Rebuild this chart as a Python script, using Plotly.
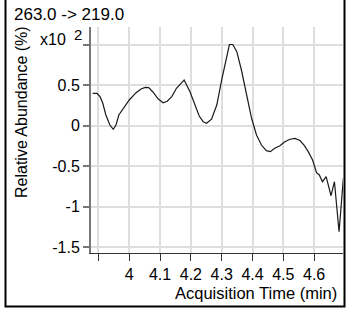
import plotly.graph_objects as go

# Data (values in units of x10^2 %)
time_min = [3.881, 3.895, 3.905, 3.914, 3.924, 3.937, 3.948, 3.957, 3.966, 3.979,
            4.000, 4.022, 4.038, 4.052, 4.063, 4.076, 4.094, 4.110, 4.123, 4.138,
            4.153, 4.168, 4.178, 4.197, 4.213, 4.227, 4.240, 4.251, 4.267, 4.284,
            4.300, 4.316, 4.325, 4.336, 4.349, 4.364, 4.381, 4.397, 4.413, 4.429,
            4.445, 4.458, 4.472, 4.489, 4.505, 4.522, 4.538, 4.554, 4.568, 4.581,
            4.595, 4.603, 4.608, 4.617, 4.627, 4.639, 4.655, 4.666, 4.681, 4.695]
abundance = [0.397, 0.397, 0.356, 0.274, 0.130, 0.006, -0.047, 0.006, 0.130, 0.200,
             0.315, 0.405, 0.451, 0.471, 0.467, 0.417, 0.327, 0.281, 0.299, 0.356,
             0.459, 0.521, 0.562, 0.417, 0.253, 0.117, 0.047, 0.027, 0.077, 0.253,
             0.562, 0.849, 1.000, 1.000, 0.911, 0.685, 0.377, 0.089, -0.117, -0.241,
             -0.311, -0.323, -0.281, -0.249, -0.200, -0.170, -0.160, -0.185, -0.245, -0.323,
             -0.426, -0.509, -0.583, -0.611, -0.694, -0.632, -0.867, -0.694, -1.311, -0.650]

x_tickvals = [3.9, 4.0, 4.1, 4.2, 4.3, 4.4, 4.5, 4.6]
x_ticktext = ["", "4", "4.1", "4.2", "4.3", "4.4", "4.5", "4.6"]
y_tickvals = [1.0, 0.5, 0, -0.5, -1, -1.5]
y_ticktext = ["", "0.5", "0", "-0.5", "-1", "-1.5"]
scale_base = "x10"
scale_exp = "2"

title_text = "263.0 -> 219.0"
x_title = "Acquisition Time (min)"
y_title = "Relative Abundance (%)"

W, H = 347, 312
L, R, T, B = 91, 4, 27, 59
pw, ph = W - L - R, H - T - B

def px(xp):
    return (xp - L) / pw

def py(yp):
    return (H - B - yp) / ph

FONT = "Liberation Sans, Arial, sans-serif"

fig = go.Figure()
fig.add_trace(go.Scatter(x=time_min, y=abundance, mode="lines",
                         line=dict(color="#1a1a1a", width=1.2),
                         hoverinfo="skip", showlegend=False))

fig.update_layout(
    width=W, height=H,
    margin=dict(l=L, r=R, t=T, b=B, pad=0),
    paper_bgcolor="white", plot_bgcolor="white",
    font=dict(family=FONT, size=16, color="black"),
    showlegend=False,
    xaxis=dict(range=[3.8757, 4.6938], tickmode="array", tickvals=x_tickvals,
               ticktext=x_ticktext, ticks="outside", ticklen=7, tickwidth=1.2,
               tickcolor="#333333", showline=True, linecolor="#333333", linewidth=1.2,
               showgrid=True, gridcolor="#dedede", gridwidth=1.5, zeroline=False,
               tickfont=dict(size=16), fixedrange=True),
    yaxis=dict(range=[-1.574, 1.216], tickmode="array", tickvals=y_tickvals,
               ticktext=y_ticktext, ticks="outside", ticklen=6, tickwidth=1.5,
               tickcolor="#777777", showline=True, linecolor="#777777", linewidth=2,
               showgrid=True, gridcolor="#dedede", gridwidth=1.5, zeroline=False,
               tickfont=dict(size=16), fixedrange=True),
    shapes=[dict(type="rect", xref="paper", yref="paper",
                 x0=px(5.5), x1=px(344.5), y0=py(306.5), y1=py(-3),
                 line=dict(color="black", width=2), fillcolor="rgba(0,0,0,0)")],
    annotations=[
        dict(text=title_text, xref="paper", yref="paper", x=px(12), y=py(14),
             xanchor="left", yanchor="middle", showarrow=False,
             font=dict(size=17)),
        dict(text=x_title, xref="paper", yref="paper", x=px(339), y=py(293),
             xanchor="right", yanchor="middle", showarrow=False,
             font=dict(size=16.5)),
        dict(text=y_title, xref="paper", yref="paper", x=px(21), y=py(112),
             xanchor="center", yanchor="middle", textangle=-90, showarrow=False,
             font=dict(size=16)),
        dict(text=scale_base, xref="paper", yref="paper", x=px(38), y=py(40),
             xanchor="left", yanchor="middle", showarrow=False,
             font=dict(size=16)),
        dict(text=scale_exp, xref="paper", yref="paper", x=px(72), y=py(34),
             xanchor="left", yanchor="middle", showarrow=False,
             font=dict(size=15)),
    ],
)

fig.write_html("out.html", config={"displayModeBar": False},
               post_script="document.body.style.margin='0';document.body.style.overflow='hidden';")
